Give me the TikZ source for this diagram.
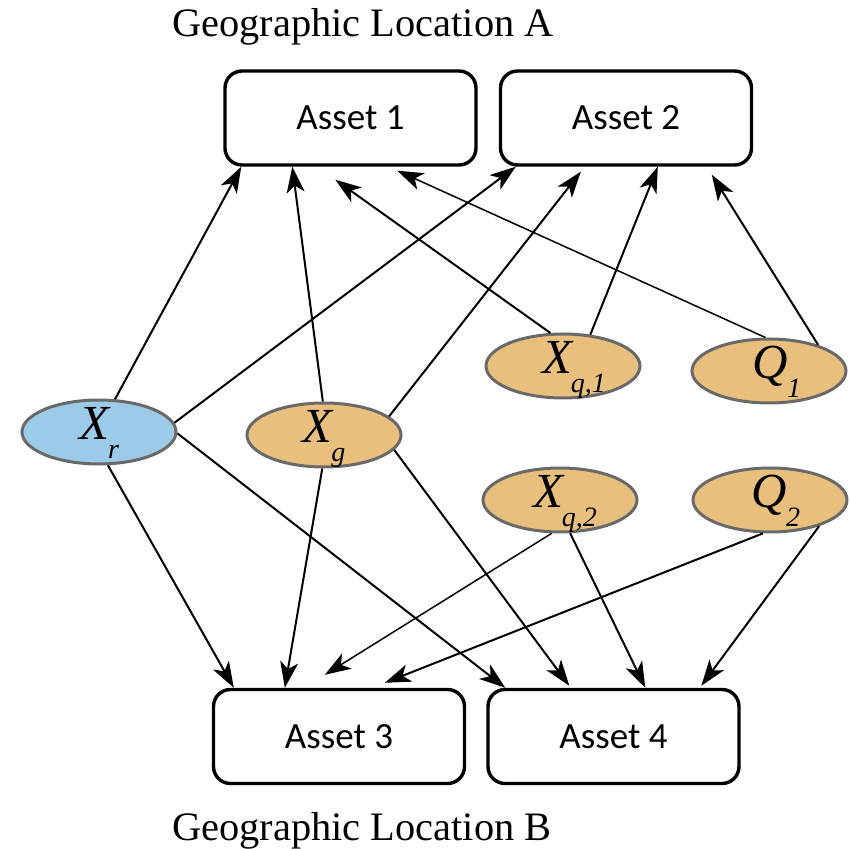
\documentclass[tikz,border=0pt]{standalone}
\usepackage{fontspec}
\setmainfont{Liberation Serif}
\newfontfamily\assetfont{Carlito}
\usetikzlibrary{arrows.meta,calc,shapes.geometric}

\definecolor{nodeblue}{RGB}{156,202,233}
\definecolor{nodeorange}{RGB}{233,191,126}
\definecolor{rimgray}{RGB}{105,105,105}

% italic variable name with a lowered subscript, baseline a little below the centre
\newcommand{\varlabel}[2]{\smash{\raisebox{-4pt}{\fontsize{24.5}{24.5}\selectfont\itshape #1\kern-0.5pt\raisebox{-9.5pt}{\fontsize{14}{14}\selectfont #2}}}}

\begin{document}
\begin{tikzpicture}[x=0.5pt,y=-0.5pt,
  asset/.style={draw,line width=1.7pt,rounded corners=8.5pt,minimum width=125.5pt,
    minimum height=47pt,inner sep=0pt,font=\assetfont\fontsize{18.5}{18.5}\selectfont},
  var/.style={ellipse,draw=rimgray,line width=1.5pt,minimum width=77pt,
    minimum height=32pt,inner sep=0pt},
  link/.style={-{Stealth[length=13pt,width=9pt,inset=3.5pt]},line width=1pt},
  thinlink/.style={link,line width=0.75pt},
  heading/.style={anchor=base west,inner sep=0pt,font=\fontsize{20.2}{20.2}\selectfont}]

\useasboundingbox (0,0) rectangle (851,849);

% headings
\node[heading] (locA) at (172,37) {Geographic Location A};
\node[heading] (locB) at (172,840) {Geographic Location B};

% assets
\node[asset] (a1) at (350.5,118) {Asset 1};
\node[asset] (a2) at (626,118) {Asset 2};
\node[asset] (a3) at (339,736.5) {Asset 3};
\node[asset] (a4) at (613.5,736.5) {Asset 4};

% variables
\node[var,fill=nodeblue]   (xr)  at (99,432)  {\varlabel{X}{r}};
\node[var,fill=nodeorange] (xg)  at (324,435) {\varlabel{X}{g}};
\node[var,fill=nodeorange] (xq1) at (563,366) {\hspace*{11pt}\varlabel{X}{q,1}};
\node[var,fill=nodeorange] (q1)  at (769,371) {\hspace*{8pt}\varlabel{Q}{1}};
\node[var,fill=nodeorange] (xq2) at (560,500) {\hspace*{5pt}\varlabel{X}{q,2}};
\node[var,fill=nodeorange] (q2)  at (770,500) {\hspace*{6pt}\varlabel{Q}{2}};

% links into location A
\draw[link]     (xr.64)   -- ($(a1.south west)+(18,0)$);
\draw[link]     (xg.92)   -- ($(a1.south west)+(69,0)$);
\draw[link]     (xq1.111) -- ($(a1.south west)+(112,13)$);
\draw[thinlink] (q1.96)   -- ($(a1.south west)+(174,4)$);
\draw[link]     (xr.7)    -- ($(a2.south west)+(17,0)$);
\draw[link]     (xg.16)   -- ($(a2.south west)+(82,5)$);
\draw[link]     (xq1.49)  -- ($(a2.south west)+(159,0)$);
\draw[link]     (q1.28)   -- ($(a2.south west)+(213,8)$);

% links into location B
\draw[link]     (xr.-75)  -- ($(a3.north west)+(22,0)$);
\draw[link]     (xg.-93)  -- ($(a3.north west)+(73,0)$);
\draw[thinlink] (xq2.-104) -- ($(a3.north west)+(113,-13)$);
\draw[link]     (q2.-102) -- ($(a3.north west)+(173,-5)$);
\draw[link]     (xr.-1)   -- ($(a4.north west)+(19,0)$);
\draw[link]     (xg.-12)  -- ($(a4.north west)+(83,-2)$);
\draw[link]     (xq2.-73) -- ($(a4.north west)+(159,0)$);
\draw[link]     (q2.-28)  -- ($(a4.north west)+(215,-2)$);
\end{tikzpicture}
\end{document}
